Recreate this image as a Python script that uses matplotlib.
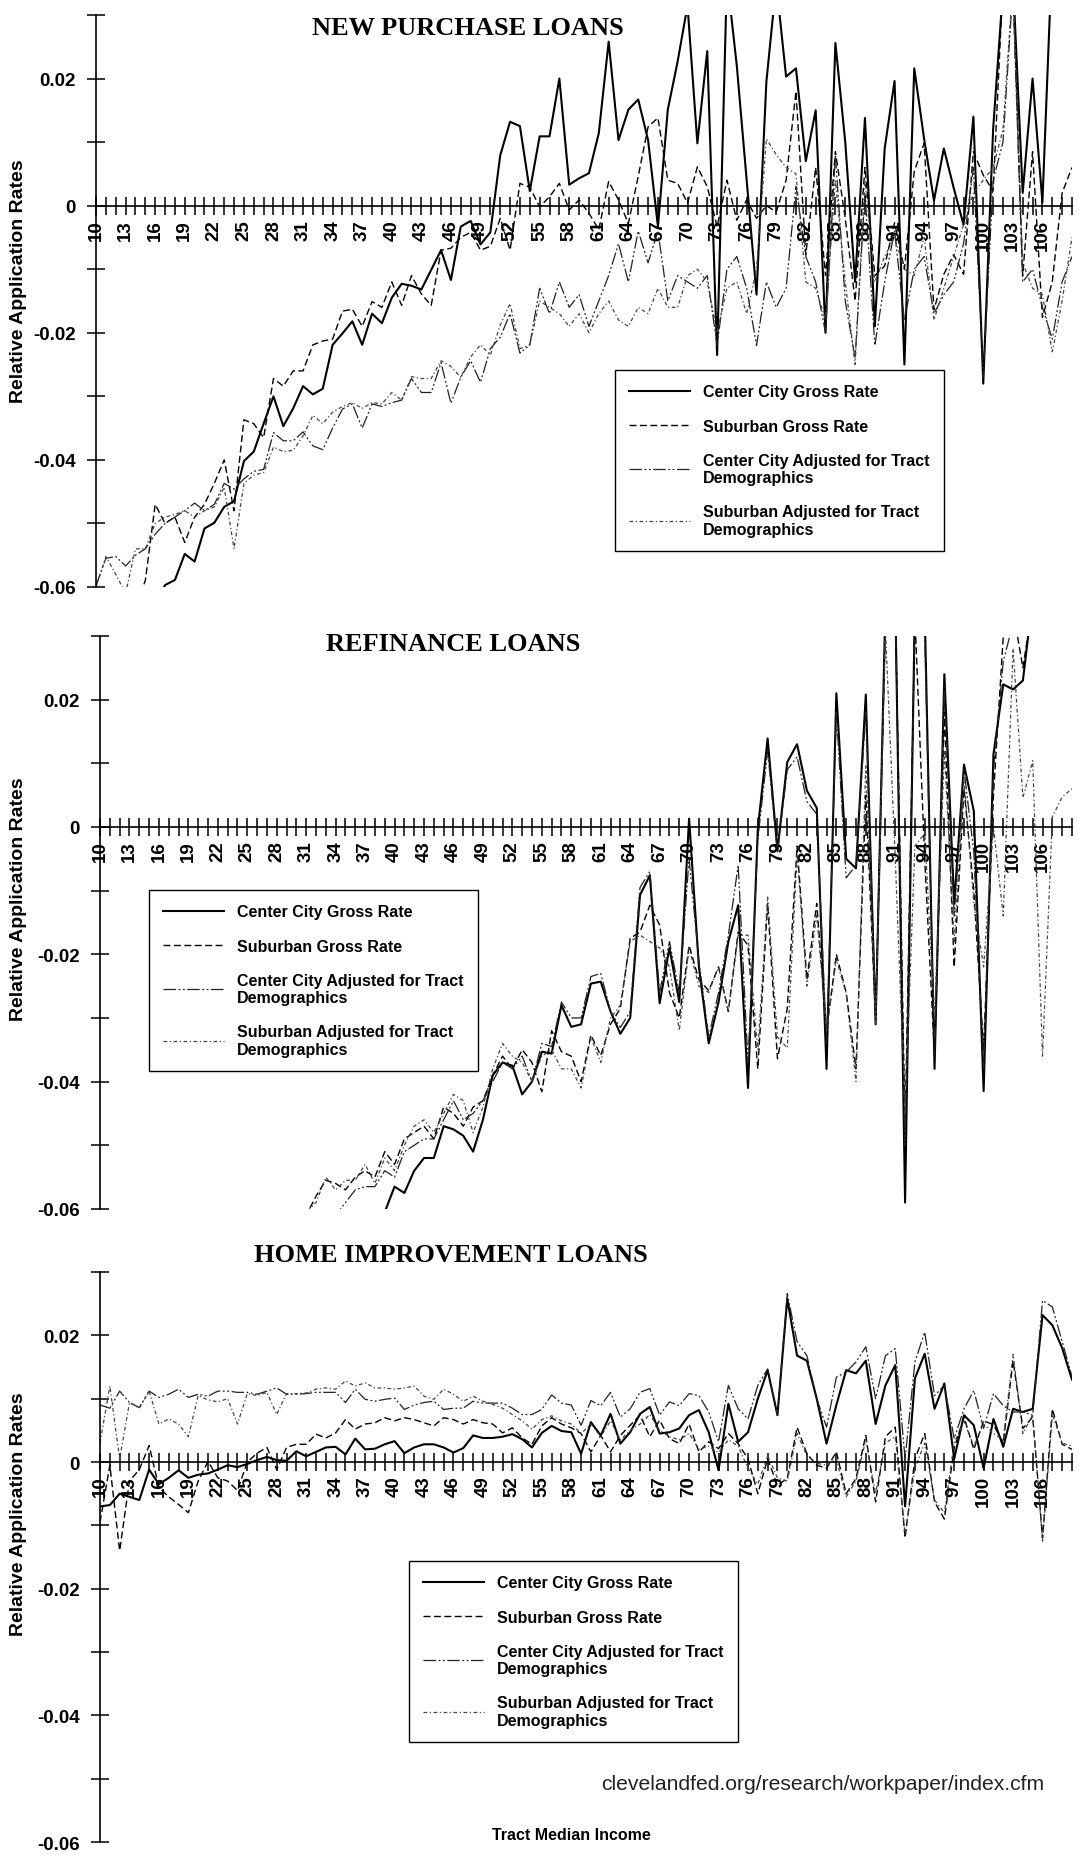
import matplotlib
matplotlib.use("Agg")
import matplotlib.pyplot as plt

plt.rcParams['font.family'] = ['Liberation Sans', 'DejaVu Sans']

# tract median income categories (thousands)
income = list(range(10, 110))

# ---- NEW PURCHASE LOANS ----
purchase_cc_gross = [
    -0.068, -0.070, -0.071, -0.070, -0.068, -0.066, -0.063, -0.0597, -0.0589, -0.0548,
    -0.056, -0.0508, -0.0499, -0.0474, -0.0465, -0.0402, -0.0387, -0.0343, -0.030, -0.0347,
    -0.0319, -0.0284, -0.0297, -0.0288, -0.0219, -0.0201, -0.0182, -0.0219, -0.017, -0.0185,
    -0.0145, -0.0123, -0.0126, -0.0132, -0.0101, -0.007, -0.0117, -0.0033, -0.0024, -0.0061,
    -0.0042, 0.0079, 0.0132, 0.0125, 0.0023, 0.0109, 0.0109, 0.0200, 0.0033, 0.0043,
    0.0051, 0.0114, 0.0258, 0.0103, 0.0151, 0.0167, 0.0103, -0.0033, 0.0151, 0.0227,
    0.0315, 0.0098, 0.0243, -0.0235, 0.036, 0.022, 0.004, -0.014, 0.0195, 0.035,
    0.0203, 0.0216, 0.007, 0.015, -0.020, 0.0256, 0.010, -0.012, 0.0138, -0.019,
    0.009, 0.0196, -0.025, 0.0216, 0.0105, 0.0008, 0.009, 0.0028, -0.003, 0.014,
    -0.028, 0.012, 0.034, 0.036, 0.002, 0.020, 0.0005, 0.040, 0.035, 0.033]
purchase_sub_gross = [
    -0.066, -0.068, -0.067, -0.065, -0.063, -0.059, -0.047, -0.050, -0.049, -0.053,
    -0.049, -0.047, -0.0437, -0.040, -0.048, -0.0337, -0.0343, -0.0365, -0.0272, -0.0284,
    -0.026, -0.026, -0.0219, -0.0213, -0.021, -0.0166, -0.0163, -0.019, -0.0151, -0.016,
    -0.012, -0.0157, -0.011, -0.0139, -0.0157, -0.007, -0.0067, -0.005, -0.0042, -0.007,
    -0.0064, -0.002, -0.007, 0.0035, 0.0029, -0.0002, 0.0014, 0.0035, -0.0007, 0.0009,
    -0.0012, -0.0038, 0.0038, 0.0009, -0.0028, 0.0046, 0.0124, 0.0138, 0.004, 0.0035,
    0.0004, 0.0061, 0.003, -0.0033, 0.004, -0.0023, 0.0009, -0.002, 0.0, -0.001,
    0.004, 0.018, -0.0077, 0.006, -0.011, 0.0085, -0.002, -0.015, 0.006, -0.011,
    -0.0095, -0.0027, -0.010, 0.0054, 0.0098, -0.0164, -0.0108, -0.0077, -0.0108, 0.0085,
    0.0048, 0.0023, 0.035, 0.036, -0.011, 0.0085, -0.0176, -0.012, 0.002, 0.006]
purchase_cc_adj = [
    -0.0598, -0.0555, -0.0552, -0.0567, -0.055, -0.054, -0.0517, -0.050, -0.049, -0.048,
    -0.0468, -0.048, -0.047, -0.0437, -0.0446, -0.043, -0.0418, -0.0415, -0.0357, -0.037,
    -0.037, -0.0356, -0.0378, -0.0384, -0.035, -0.032, -0.0312, -0.035, -0.0312, -0.0316,
    -0.031, -0.0306, -0.0272, -0.0294, -0.0294, -0.0247, -0.0311, -0.027, -0.0244, -0.0278,
    -0.0225, -0.0207, -0.017, -0.0232, -0.0219, -0.013, -0.017, -0.012, -0.016, -0.014,
    -0.019, -0.015, -0.011, -0.006, -0.012, -0.004, -0.009, -0.004, -0.015, -0.011,
    -0.012, -0.013, -0.011, -0.022, -0.010, -0.008, -0.013, -0.022, -0.012, -0.016,
    -0.013, 0.003, -0.008, -0.012, -0.020, 0.008, -0.015, -0.024, 0.002, -0.022,
    -0.012, -0.004, -0.018, -0.010, -0.008, -0.017, -0.014, -0.012, -0.006, 0.006,
    -0.027, 0.004, 0.010, 0.034, -0.012, -0.010, -0.016, -0.021, -0.012, -0.008]
purchase_sub_adj = [
    -0.060, -0.0552, -0.058, -0.061, -0.054, -0.054, -0.050, -0.049, -0.0486, -0.048,
    -0.049, -0.048, -0.0474, -0.0443, -0.054, -0.0437, -0.0424, -0.042, -0.038, -0.0387,
    -0.0385, -0.0362, -0.033, -0.0343, -0.0325, -0.0316, -0.031, -0.0319, -0.031, -0.0312,
    -0.0294, -0.0306, -0.0269, -0.0272, -0.0272, -0.0244, -0.0253, -0.027, -0.0238, -0.0219,
    -0.0235, -0.0188, -0.0154, -0.0225, -0.0219, -0.015, -0.016, -0.017, -0.019, -0.017,
    -0.020, -0.017, -0.015, -0.018, -0.019, -0.016, -0.017, -0.013, -0.016, -0.016,
    -0.011, -0.010, -0.012, -0.020, -0.013, -0.012, -0.017, -0.010, 0.0105, 0.008,
    0.006, 0.005, -0.012, -0.013, -0.018, 0.004, -0.012, -0.025, 0.004, -0.012,
    -0.008, -0.005, -0.010, -0.011, -0.005, -0.018, -0.013, -0.008, -0.003, 0.002,
    0.004, 0.006, 0.012, 0.035, -0.009, -0.013, -0.014, -0.023, -0.015, -0.005]

# ---- REFINANCE LOANS ----
refi_cc_gross = [
    -0.070, -0.071, -0.072, -0.071, -0.070, -0.072, -0.071, -0.070, -0.069, -0.070,
    -0.071, -0.070, -0.069, -0.070, -0.068, -0.069, -0.070, -0.068, -0.067, -0.068,
    -0.069, -0.068, -0.067, -0.068, -0.067, -0.066, -0.067, -0.066, -0.065, -0.0605,
    -0.0565, -0.0575, -0.054, -0.052, -0.052, -0.047, -0.0475, -0.0485, -0.051, -0.046,
    -0.039, -0.037, -0.0375, -0.042, -0.040, -0.0353, -0.0356, -0.028, -0.0314, -0.031,
    -0.0246, -0.0243, -0.029, -0.0325, -0.030, -0.0107, -0.0076, -0.0277, -0.019, -0.0275,
    0.0013, -0.022, -0.034, -0.0275, -0.018, -0.0123, -0.041, -0.0003, 0.0139, -0.0037,
    0.0102, 0.013, 0.0057, 0.003, -0.038, 0.021, -0.005, -0.0065, 0.0208, -0.031,
    0.035, 0.036, -0.059, 0.035, 0.034, -0.038, 0.024, -0.012, 0.0098, 0.0025,
    -0.0415, 0.0114, 0.0224, 0.0216, 0.023, 0.036, 0.040, 0.040, 0.040, 0.040]
refi_sub_gross = [
    -0.070, -0.071, -0.070, -0.072, -0.071, -0.070, -0.069, -0.070, -0.071, -0.069,
    -0.068, -0.069, -0.070, -0.068, -0.067, -0.068, -0.069, -0.067, -0.066, -0.065,
    -0.064, -0.061, -0.058, -0.0555, -0.056, -0.057, -0.055, -0.054, -0.055, -0.051,
    -0.053, -0.049, -0.048, -0.047, -0.049, -0.044, -0.045, -0.047, -0.044, -0.043,
    -0.039, -0.036, -0.038, -0.035, -0.037, -0.0416, -0.032, -0.0353, -0.036, -0.040,
    -0.0327, -0.0359, -0.031, -0.0285, -0.0175, -0.0165, -0.0123, -0.0154, -0.026, -0.030,
    -0.0186, -0.024, -0.0257, -0.022, -0.029, -0.0165, -0.0186, -0.038, -0.012, -0.0364,
    -0.0285, -0.003, -0.024, -0.012, -0.032, -0.020, -0.026, -0.038, 0.005, -0.030,
    0.032, 0.035, -0.048, 0.033, -0.005, -0.036, 0.018, -0.022, 0.006, -0.010,
    -0.035, 0.005, 0.030, 0.034, 0.025, 0.035, 0.036, 0.035, 0.036, 0.036]
refi_cc_adj = [
    -0.070, -0.071, -0.072, -0.070, -0.071, -0.070, -0.069, -0.071, -0.070, -0.069,
    -0.070, -0.068, -0.069, -0.070, -0.068, -0.067, -0.068, -0.069, -0.067, -0.068,
    -0.067, -0.066, -0.065, -0.064, -0.061, -0.059, -0.057, -0.0565, -0.0565, -0.054,
    -0.055, -0.051, -0.050, -0.049, -0.049, -0.046, -0.043, -0.046, -0.045, -0.043,
    -0.040, -0.037, -0.038, -0.036, -0.040, -0.034, -0.0345, -0.0275, -0.030, -0.030,
    -0.0235, -0.023, -0.029, -0.0315, -0.029, -0.0095, -0.007, -0.026, -0.018, -0.026,
    -0.005, -0.021, -0.033, -0.026, -0.017, -0.006, -0.037, -0.002, 0.012, -0.004,
    0.009, 0.011, 0.004, 0.002, -0.034, 0.018, -0.008, -0.006, 0.018, -0.029,
    0.033, 0.034, -0.050, 0.033, 0.030, -0.036, 0.022, -0.014, 0.009, -0.004,
    -0.038, 0.009, 0.026, 0.032, 0.034, 0.036, 0.036, 0.036, 0.036, 0.036]
refi_sub_adj = [
    -0.070, -0.069, -0.071, -0.070, -0.072, -0.071, -0.070, -0.069, -0.070, -0.071,
    -0.069, -0.068, -0.070, -0.069, -0.068, -0.067, -0.068, -0.067, -0.066, -0.066,
    -0.064, -0.0605, -0.059, -0.055, -0.057, -0.0555, -0.0555, -0.053, -0.056, -0.052,
    -0.054, -0.050, -0.047, -0.046, -0.048, -0.045, -0.042, -0.043, -0.048, -0.044,
    -0.038, -0.034, -0.036, -0.037, -0.040, -0.036, -0.035, -0.038, -0.038, -0.041,
    -0.033, -0.037, -0.030, -0.028, -0.018, -0.017, -0.018, -0.019, -0.022, -0.032,
    -0.019, -0.025, -0.026, -0.022, -0.029, -0.017, -0.017, -0.035, -0.011, -0.033,
    -0.0347, -0.0043, -0.025, -0.0137, -0.032, -0.0208, -0.0262, -0.040, 0.0098, -0.031,
    0.031, -0.005, -0.045, -0.003, -0.001, -0.030, 0.012, -0.018, 0.0075, -0.012,
    -0.022, 0.0, -0.014, 0.028, 0.0046, 0.0104, -0.036, 0.0016, 0.0047, 0.006]

# ---- HOME IMPROVEMENT LOANS ----
home_cc_gross = [
    -0.007, -0.0068, -0.005, -0.0055, -0.006, -0.0012, -0.0035, -0.0025, -0.0013, -0.0025,
    -0.002, -0.0018, -0.0012, -0.0005, -0.0008, -0.0003, 0.0003, 0.0008, 0.0003, 0.0002,
    0.0017, 0.0009, 0.0016, 0.0023, 0.0024, 0.0012, 0.0037, 0.002, 0.0021, 0.0028,
    0.0033, 0.0014, 0.0023, 0.0028, 0.0028, 0.0023, 0.0015, 0.0022, 0.0042, 0.0038,
    0.0038, 0.004, 0.0044, 0.0036, 0.0023, 0.0046, 0.0057, 0.0049, 0.0047, 0.0013,
    0.0063, 0.0042, 0.0076, 0.0029, 0.0047, 0.0076, 0.0087, 0.0045, 0.0047, 0.0053,
    0.0074, 0.0082, 0.0047, -0.0013, 0.0092, 0.0032, 0.0047, 0.010, 0.0145, 0.0074,
    0.0258, 0.0168, 0.016, 0.010, 0.0029, 0.009, 0.0145, 0.014, 0.016, 0.006,
    0.0121, 0.0153, -0.007, 0.0132, 0.0171, 0.0084, 0.0124, 0.0005, 0.0074, 0.0058,
    -0.001, 0.0068, 0.0024, 0.0084, 0.0079, 0.0084, 0.0232, 0.0216, 0.018, 0.013]
home_sub_gross = [
    -0.0095, -0.0005, -0.014, -0.003, -0.0012, 0.0026, -0.004, -0.0055, -0.0067, -0.008,
    -0.003, 0.0001, -0.0025, -0.003, -0.0045, 0.0, 0.0014, 0.0023, -0.0012, 0.0023,
    0.0028, 0.0028, 0.0044, 0.0038, 0.0046, 0.0067, 0.0052, 0.006, 0.0062, 0.007,
    0.0065, 0.007, 0.0067, 0.0062, 0.0057, 0.007, 0.0067, 0.006, 0.0067, 0.0062,
    0.006, 0.0046, 0.0054, 0.0038, 0.0028, 0.0057, 0.007, 0.006, 0.0054, 0.0045,
    0.0016, 0.0042, 0.0016, 0.0042, 0.0058, 0.0074, 0.004, 0.0066, 0.0037, 0.0029,
    0.006, 0.0016, 0.0032, 0.0021, 0.0045, 0.0029, 0.0005, -0.005, 0.0005, -0.0037,
    -0.0026, 0.0055, 0.0013, -0.0005, -0.001, 0.0016, -0.005, -0.0026, 0.0042, -0.0063,
    0.004, 0.0055, -0.012, 0.0005, 0.0045, -0.0063, -0.009, 0.0022, 0.0071, 0.002,
    0.0065, 0.0059, 0.003, 0.016, 0.0053, 0.0071, -0.012, 0.0084, 0.0028, 0.002]
home_cc_adj = [
    0.009, 0.0085, 0.0112, 0.0094, 0.0086, 0.0112, 0.0102, 0.0107, 0.0115, 0.0102,
    0.0107, 0.0104, 0.0112, 0.0112, 0.011, 0.011, 0.0107, 0.0112, 0.0117, 0.0107,
    0.0107, 0.0108, 0.011, 0.011, 0.011, 0.0094, 0.0115, 0.0099, 0.0096, 0.0099,
    0.0101, 0.0083, 0.009, 0.0094, 0.0096, 0.0083, 0.0085, 0.0085, 0.0096, 0.0093,
    0.0093, 0.0093, 0.0085, 0.0075, 0.0075, 0.0083, 0.0106, 0.0093, 0.009, 0.0058,
    0.0097, 0.0089, 0.011, 0.0071, 0.0084, 0.011, 0.0116, 0.0074, 0.0095, 0.0089,
    0.0108, 0.0105, 0.0079, 0.0032, 0.0121, 0.0084, 0.0068, 0.0121, 0.0147, 0.0074,
    0.0266, 0.019, 0.0168, 0.010, 0.0055, 0.0134, 0.0142, 0.0158, 0.0182, 0.010,
    0.0168, 0.0179, 0.0005, 0.0158, 0.0205, 0.0105, 0.0121, 0.0037, 0.0084, 0.0113,
    0.0053, 0.0108, 0.0089, 0.0079, 0.0079, 0.0074, 0.0255, 0.0245, 0.019, 0.0135]
home_sub_adj = [
    0.003, 0.012, 0.0005, 0.0094, 0.0085, 0.0112, 0.006, 0.0068, 0.006, 0.004,
    0.0105, 0.0098, 0.0095, 0.010, 0.006, 0.0108, 0.0105, 0.011, 0.0075, 0.0108,
    0.0108, 0.0109, 0.0115, 0.0117, 0.0115, 0.0128, 0.012, 0.0125, 0.0117, 0.0117,
    0.0115, 0.0117, 0.012, 0.0104, 0.0099, 0.0115, 0.0107, 0.0096, 0.0104, 0.0096,
    0.0091, 0.0085, 0.0075, 0.0065, 0.0052, 0.0067, 0.0073, 0.0065, 0.006, 0.0045,
    0.006, 0.004, 0.0065, 0.0035, 0.005, 0.006, 0.0075, 0.005, 0.004, 0.0035,
    0.0045, 0.002, 0.0025, 0.0015, 0.0035, 0.0025, -0.001, -0.0035, 0.001, -0.0025,
    -0.003, 0.0045, 0.001, -0.0002, -0.0005, 0.0005, -0.0055, -0.003, 0.0035, -0.005,
    0.003, 0.004, -0.0115, -0.001, 0.003, -0.006, -0.008, 0.003, 0.0065, 0.0025,
    0.006, 0.0045, 0.0035, 0.017, 0.0045, 0.0075, -0.0125, 0.0075, 0.003, 0.0025]

labels = ["Center City Gross Rate", "Suburban Gross Rate",
          "Center City Adjusted for Tract\nDemographics",
          "Suburban Adjusted for Tract\nDemographics"]

styles = [
    dict(color="black", lw=1.5, linestyle="-"),
    dict(color="black", lw=1.0, linestyle=(0, (5, 2.5))),
    dict(color="#222222", lw=0.9, linestyle=(0, (10, 2, 1.5, 2, 1.5, 2))),
    dict(color="#444444", lw=0.9, linestyle=(0, (3, 2, 1, 2))),
]

fig = plt.figure(figsize=(10.79, 18.56), dpi=100)


def panel(rect, series, title, title_xy, legend_xy, ylab_y):
    ax = fig.add_axes(rect)
    for vals, st, lab in zip(series, styles, labels):
        ax.plot(income, vals, label=lab, **st)
    ax.set_xlim(10, 109)
    ax.set_ylim(-0.06, 0.03)

    for s in ["top", "right"]:
        ax.spines[s].set_visible(False)
    ax.spines["bottom"].set_position(("data", 0))
    ax.spines["bottom"].set_linewidth(1.2)
    ax.spines["left"].set_linewidth(1.2)

    ax.set_xticks(income)
    ax.set_xticklabels([str(c) if (c - 10) % 3 == 0 and c <= 106 else "" for c in income],
                       rotation=90, fontsize=13.5, fontweight="bold")
    ax.tick_params(axis="x", direction="inout", length=13, width=1.1, pad=3)

    yt = [-0.06, -0.05, -0.04, -0.03, -0.02, -0.01, 0.0, 0.01, 0.02, 0.03]
    ylab = ["-0.06", "", "-0.04", "", "-0.02", "", "0", "", "0.02", ""]
    ax.set_yticks(yt)
    ax.set_yticklabels(ylab, fontsize=13.5, fontweight="bold")
    ax.tick_params(axis="y", direction="inout", length=13, width=1.1, pad=8)

    leg = ax.legend(loc="upper left", bbox_to_anchor=legend_xy, bbox_transform=fig.transFigure,
                    borderaxespad=0, frameon=True, fancybox=False, framealpha=1,
                    edgecolor="black", prop={"weight": "bold", "size": 11.5},
                    handlelength=3.8, handletextpad=0.8, labelspacing=1.2, borderpad=0.9)
    leg.get_frame().set_linewidth(1.0)

    fig.text(title_xy[0], title_xy[1], title, ha="center", va="center",
             fontsize=19, fontweight="bold", family="Liberation Serif")
    fig.text(19 / 1079, ylab_y, "Relative Application Rates", rotation=90,
             ha="center", va="center", fontsize=14, fontweight="bold")
    return ax


panel([0.0890, 0.6832, 0.9045, 0.3082],
      [purchase_cc_gross, purchase_sub_gross, purchase_cc_adj, purchase_sub_adj],
      "NEW PURCHASE LOANS", (0.4337, 0.9849), (0.570, 0.8001), 0.8486)
panel([0.0927, 0.3481, 0.9008, 0.3087],
      [refi_cc_gross, refi_sub_gross, refi_cc_adj, refi_sub_adj],
      "REFINANCE LOANS", (0.4198, 0.6525), (0.1381, 0.5199), 0.5156)
panel([0.0927, 0.0070, 0.9008, 0.3071],
      [home_cc_gross, home_sub_gross, home_cc_adj, home_sub_adj],
      "HOME IMPROVEMENT LOANS", (0.418, 0.3233), (0.379, 0.1584), 0.1843)

fig.text(0.557, 0.0383, "clevelandfed.org/research/workpaper/index.cfm",
         ha="left", va="center", fontsize=15.2, color="#222222")
fig.text(0.5292, 0.0113, "Tract Median Income", ha="center", va="center",
         fontsize=11.5, fontweight="bold")

fig.savefig("out.png", dpi=100)
